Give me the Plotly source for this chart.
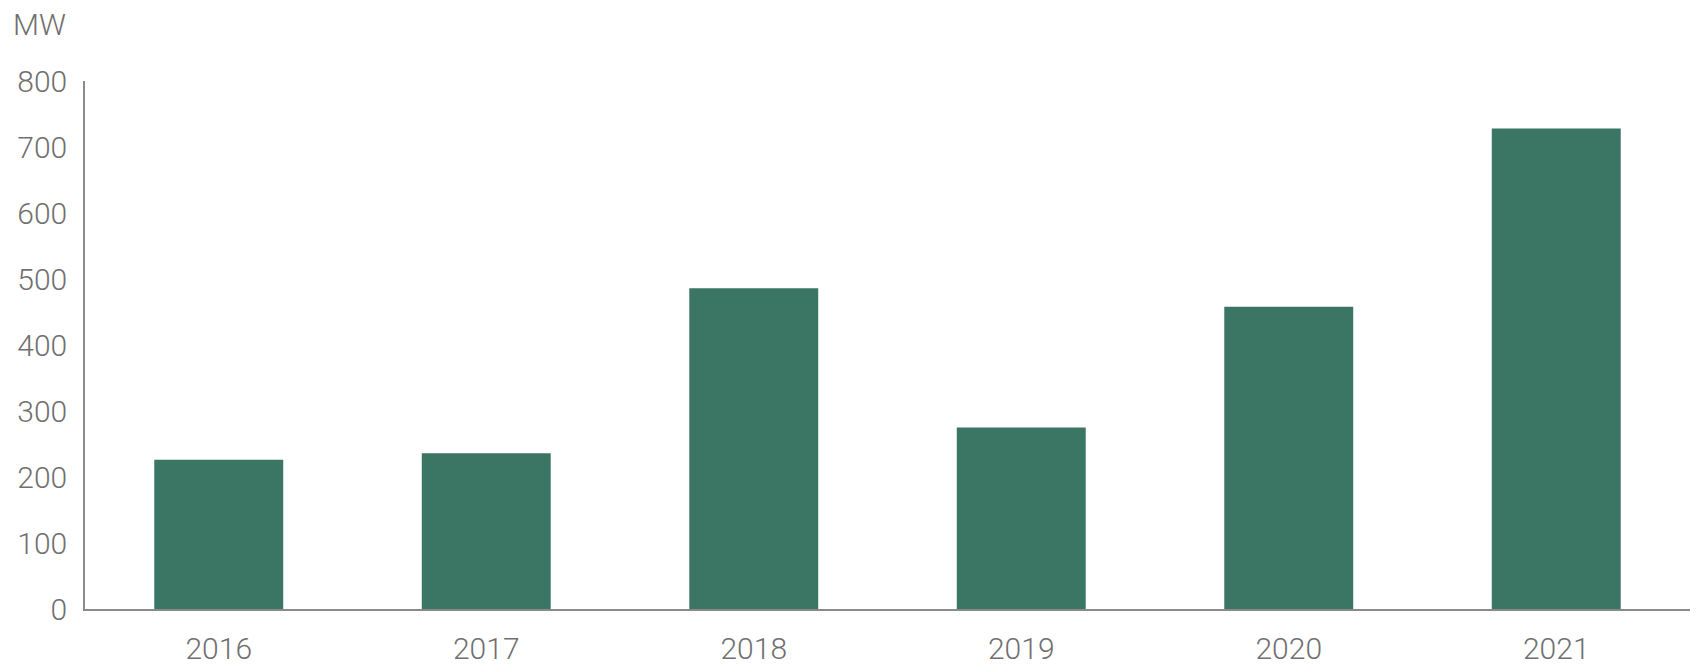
import plotly.graph_objects as go

years = ["2016", "2017", "2018", "2019", "2020", "2021"]
capacity_mw = [226, 236, 486, 275, 458, 728]
y_ticks = [0, 100, 200, 300, 400, 500, 600, 700, 800]

text_color = "#707070"
font_family = "Roboto, Liberation Sans, sans-serif"
fsize = 30

fig = go.Figure(
    go.Bar(
        x=years,
        y=capacity_mw,
        marker=dict(color="#3b7563", line=dict(width=0)),
        hoverinfo="x+y",
    )
)

fig.update_layout(
    width=1700,
    height=670,
    margin=dict(l=85, r=10, t=81, b=61, autoexpand=False),
    plot_bgcolor="white",
    paper_bgcolor="white",
    bargap=0.518,
    showlegend=False,
    font=dict(family=font_family, size=fsize, color=text_color, weight=300),
    annotations=[
        dict(
            text="MW",
            xref="paper", yref="paper",
            x=-74 / 1605, y=1 + 57 / 528,
            xanchor="left", yanchor="middle",
            showarrow=False,
            font=dict(family=font_family, size=fsize, color=text_color, weight=300),
        )
    ],
)

fig.update_xaxes(
    automargin=False,
    showline=True,
    linecolor="#8a8a8a",
    linewidth=2,
    ticks="",
    showgrid=False,
    ticklabelstandoff=12,
    tickfont=dict(family=font_family, size=fsize, color=text_color, weight=300),
)

fig.update_yaxes(
    automargin=False,
    range=[0, 800],
    tickvals=y_ticks,
    showline=True,
    linecolor="#8a8a8a",
    linewidth=1.5,
    ticks="",
    showgrid=False,
    zeroline=False,
    ticklabelstandoff=10,
    tickfont=dict(family=font_family, size=fsize, color=text_color, weight=300),
)

fig.write_html(
    "out.html",
    config={"displayModeBar": False},
    post_script="document.body.style.margin='0';document.body.style.overflow='hidden';",
)
